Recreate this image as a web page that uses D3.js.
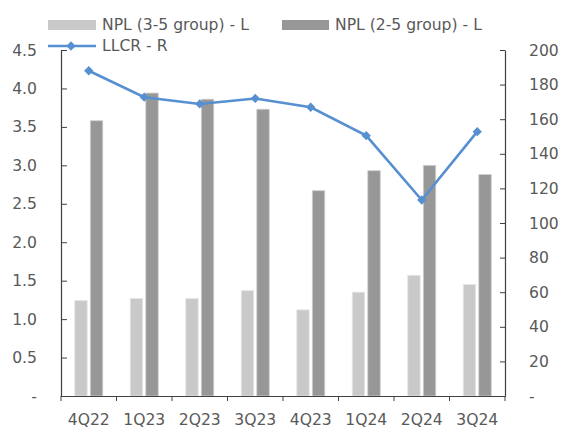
<!DOCTYPE html>
<html><head><meta charset="utf-8">
<script src="https://cdn.jsdelivr.net/npm/d3@7"></script>
<style>
body{margin:0;background:#fff;}
text{font-family:"DejaVu Sans",Verdana,sans-serif;}
</style></head>
<body><svg id="c" width="561" height="430"></svg>
<script>
const categories = ["4Q22","1Q23","2Q23","3Q23","4Q23","1Q24","2Q24","3Q24"];
const npl35 = [1.24,1.27,1.27,1.37,1.12,1.35,1.57,1.45];
const npl25 = [3.58,3.94,3.86,3.73,2.67,2.93,3.00,2.88];
const llcr = [188,172.7,168.8,172,166.9,150.5,113.3,152.8];
const leftTicks = [0,0.5,1,1.5,2,2.5,3,3.5,4,4.5];
const rightTicks = [0,20,40,60,80,100,120,140,160,180,200];
const seriesNames = ["NPL (3-5 group) - L","NPL (2-5 group) - L","LLCR - R"];

const svg = d3.select("#c");
const L = 61, R = 505, T = 50, B = 396;
const fs = "15.6px", tc = "#595959", ac = "#404040";
const lightC = "#c9c9c9", darkC = "#979797", lineC = "#5690d0";

const x = d3.scaleBand().domain(categories).range([L, R]).padding(0);
const bw = x.bandwidth();
const x1 = d3.scaleBand().domain(["a","b"]).range([bw/2-14, bw/2+14]).paddingInner(0.2);
const yL = d3.scaleLinear().domain([0,4.5]).range([B,T]);
const yR = d3.scaleLinear().domain([0,200]).range([B,T]);

// bars
const g = svg.append("g");
categories.forEach((c,i)=>{
  g.append("rect").attr("x", x(c)+x1("a")).attr("y", yL(npl35[i])).attr("width", x1.bandwidth())
    .attr("height", B - yL(npl35[i])).attr("fill", lightC).attr("stroke","#e6e6e6").attr("stroke-width",0.8);
  g.append("rect").attr("x", x(c)+x1("b")).attr("y", yL(npl25[i])).attr("width", x1.bandwidth())
    .attr("height", B - yL(npl25[i])).attr("fill", darkC).attr("stroke","#cfcfcf").attr("stroke-width",0.8);
});

// axes
const axL = d3.axisLeft(yL).tickValues(leftTicks).tickSizeInner(-6).tickSizeOuter(0).tickPadding(24)
  .tickFormat(d => d===0 ? "-" : d3.format(".1f")(d));
const gL = svg.append("g").attr("transform",`translate(${L},0)`).call(axL);
const axR = d3.axisRight(yR).tickValues(rightTicks).tickSizeInner(-5).tickSizeOuter(0).tickPadding(24)
  .tickFormat(d => d===0 ? "-" : d);
const gR = svg.append("g").attr("transform",`translate(${R},0)`).call(axR);
const axB = d3.axisBottom(x).tickSizeInner(0).tickSizeOuter(0).tickPadding(24);
const gB = svg.append("g").attr("transform",`translate(0,${B})`).call(axB);
// category boundary ticks
const bounds = categories.map(c => x(c)).concat([R]);
gB.selectAll("line.bt").data(bounds).enter().append("line").attr("class","bt")
  .attr("x1", d=>d).attr("x2", d=>d).attr("y1",0).attr("y2",5).attr("stroke",ac);
[gL,gR,gB].forEach(a=>{
  a.select(".domain").attr("stroke",ac).attr("stroke-width",1.2);
  a.selectAll(".tick line").attr("stroke",ac);
  a.selectAll("text").attr("fill",tc).style("font-size",fs).style("font-family",'"DejaVu Sans",Verdana,sans-serif');
});
gB.selectAll(".tick text").attr("dy",null).attr("dominant-baseline","middle");

// line
const line = d3.line().x((d,i)=>x(categories[i])+bw/2).y(d=>yR(d));
svg.append("path").datum(llcr).attr("d",line).attr("fill","none").attr("stroke",lineC).attr("stroke-width",2.6);
const diamond = d3.symbol().type(d3.symbolDiamond2).size(55);
svg.selectAll("path.pt").data(llcr).enter().append("path").attr("class","pt")
  .attr("d",diamond).attr("transform",(d,i)=>`translate(${x(categories[i])+bw/2},${yR(d)})`).attr("fill",lineC);

// legend
const lg = svg.append("g");
lg.append("rect").attr("x",48).attr("y",20).attr("width",48).attr("height",10).attr("fill",lightC);
lg.append("text").attr("x",102).attr("y",25).attr("dominant-baseline","middle").attr("fill",tc).style("font-size",fs).text(seriesNames[0]);
lg.append("rect").attr("x",282).attr("y",20).attr("width",47).attr("height",10).attr("fill",darkC);
lg.append("text").attr("x",335).attr("y",25).attr("dominant-baseline","middle").attr("fill",tc).style("font-size",fs).text(seriesNames[1]);
lg.append("line").attr("x1",48).attr("x2",96).attr("y1",46).attr("y2",46).attr("stroke",lineC).attr("stroke-width",2.6);
lg.append("path").attr("d",diamond).attr("transform","translate(71,46)").attr("fill",lineC);
lg.append("text").attr("x",102).attr("y",46).attr("dominant-baseline","middle").attr("fill",tc).style("font-size",fs).text(seriesNames[2]);
</script></body></html>
